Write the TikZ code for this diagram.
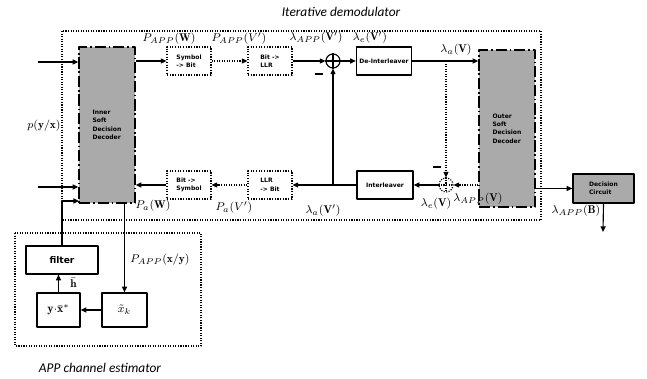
\documentclass[tikz,border=0pt]{standalone}
\usepackage{fontspec}
\setsansfont{Carlito}
\newfontfamily\boxfont{DejaVu Sans}
\usetikzlibrary{arrows.meta,positioning,calc}

\definecolor{decgray}{RGB}{170,170,170}

\begin{document}
\begin{tikzpicture}[
  x=0.025cm,
  y=-0.025cm,
  line join=round,
  >={Triangle[length=4pt,width=3.6pt]},
  lbl/.style={font=\fontsize{8}{9}\selectfont, inner sep=0pt},
  title/.style={font=\sffamily\itshape\fontsize{9.5}{11}\selectfont, inner sep=0pt},
  blk/.style={draw, line width=0.9pt, inner sep=1pt, align=left,
    font=\boxfont\bfseries\fontsize{4.3}{6}\selectfont},
  dotblk/.style={blk, densely dotted, line width=0.8pt},
  decoder/.style={blk, fill=decgray, line width=1.1pt,
    dash pattern=on 8pt off 2pt on 1.2pt off 2pt},
  estblk/.style={blk, align=center, font=\boxfont\bfseries\fontsize{6.5}{8}\selectfont},
  sum/.style={draw, circle, line width=0.8pt, minimum size=0.35cm, inner sep=0pt},
  minus/.style={inner sep=0pt}
]

\useasboundingbox (0,0) rectangle (647,379);

% Iterative demodulator frame
\draw[densely dotted, line width=0.8pt] (62,31) rectangle (541,220);
\node[title] (demodtitle) at (341,12) {Iterative demodulator};

% Soft decision decoders
\node[decoder, minimum width=1.4cm, minimum height=3.9cm]
  (inner) at (107,125) {Inner\\Soft\\Decision\\Decoder};
\node[decoder, minimum width=1.4cm, minimum height=3.925cm]
  (outer) at (507,128.5) {Outer\\Soft\\Decision\\Decoder};

% Forward row
\node[dotblk, minimum width=1.1cm, minimum height=0.7cm]
  (symbit) at (189,61) {Symbol\\-> Bit};
\node[dotblk, minimum width=1.1cm, minimum height=0.7cm]
  (bitllr) at (270,61) {Bit ->\\LLR};
\node[sum] (sumtop) at (333,61) {};
\draw[line width=0.8pt] (sumtop.north) -- (sumtop.south)
  (sumtop.west) -- (sumtop.east);
\node[blk, minimum width=1.375cm, minimum height=0.7cm]
  (deint) at (384,61) {De-Interleaver};

% Feedback row
\node[dotblk, minimum width=1.1cm, minimum height=0.7cm]
  (bitsym) at (189,185) {Bit ->\\Symbol};
\node[dotblk, minimum width=1.1cm, minimum height=0.7cm]
  (llrbit) at (270,185) {LLR\\-> Bit};
\node[blk, minimum width=1.4cm, minimum height=0.7cm]
  (interl) at (385,185) {Interleaver};
\node[sum, densely dotted] (sumbot) at (446,185) {};
\draw[densely dotted, line width=0.8pt] (sumbot.north) -- (sumbot.south)
  (sumbot.west) -- (sumbot.east);

% Decision circuit
\node[blk, fill=decgray, minimum width=1.525cm, minimum height=0.725cm]
  (decision) at (603.5,188.5) {Decision\\Circuit};
\coordinate (decout) at (603,232);

% APP channel estimator
\draw[densely dotted, line width=0.8pt] (15,233) rectangle (201,346);
\node[title] (esttitle) at (100,368) {APP channel estimator};
\node[estblk, minimum width=1.8cm, minimum height=0.7cm]
  (filter) at (62,260) {filter};
\node[estblk, minimum width=1.075cm, minimum height=0.85cm,
  font=\fontsize{8.5}{9}\selectfont]
  (yx) at (58.5,310) {$\mathbf{y}{\cdot}\bar{\mathbf{x}}^{*}$};
\node[estblk, minimum width=1.125cm, minimum height=0.85cm,
  font=\fontsize{8}{9}\selectfont]
  (xk) at (124.5,310) {$\tilde{x}_k$};

% Channel inputs
\coordinate (in1) at (38,62);
\coordinate (in2) at (38,187);
\coordinate (fbin) at (79,201);
\node[lbl] (pyx) at (44,126) {$p(\mathbf{y}/\mathbf{x})$};

% Connectors
\begin{scope}[line width=0.8pt]
\draw[->] (in1) -- (in1 -| inner.west);
\draw[->] (in2) -- (in2 -| inner.west);
\draw[->] (filter.north) |- (fbin);
\draw[->] (symbit.west -| inner.east) -- (symbit.west);
\draw[->, densely dotted] (symbit.east) -- (bitllr.west);
\draw[->] (bitllr.east) -- (sumtop.west);
\draw[->] (sumtop.east) -- (deint.west);
\draw[->] (deint.east) -- (deint.east -| outer.west);
\draw[->, densely dotted] (sumbot |- deint.east) -- (sumbot.north);
\draw[->, densely dotted] (sumbot.east -| outer.west) -- (sumbot.east);
\draw[->] (sumbot.west) -- (interl.east);
\draw[->] (interl.west) -- (llrbit.east);
\draw[->] (sumtop |- interl.west) -- (sumtop.south);
\draw[->, densely dotted] (llrbit.west) -- (bitsym.east);
\draw[->] (bitsym.west) -- (bitsym.west -| inner.east);
\draw[->] (decision.west -| outer.east) -- (decision.west);
\draw[->] (decision.south) -- (decout);
\draw[->] (xk.north |- inner.south) -- (xk.north);
\draw[->] (xk.west) -- (yx.east);
\draw[->] (yx.north) -- (yx.north |- filter.south);
\end{scope}

% Signal labels
\node[lbl] (lpw) at (169,39) {$P_{APP}(\mathbf{W})$};
\node[lbl] (lpv) at (239,39) {$P_{APP}(V')$};
\node[lbl] (llappv) at (316,38) {$\lambda_{APP}(\mathbf{V}')$};
\node[lbl] (lev) at (370,38) {$\lambda_{e}(\mathbf{V}')$};
\node[lbl] (lav) at (456,50) {$\lambda_{a}(\mathbf{V})$};
\node[lbl] (lpaw) at (153,206) {$P_{a}(\mathbf{W})$};
\node[lbl] (lpav) at (234,208) {$P_{a}(V')$};
\node[lbl] (lavp) at (323,211) {$\lambda_{a}(\mathbf{V}')$};
\node[lbl] (levb) at (436,204) {$\lambda_{e}(\mathbf{V})$};
\node[lbl] (lappv) at (478,199) {$\lambda_{APP}(\mathbf{V})$};
\node[lbl] (lappb) at (576,211) {$\lambda_{APP}(\mathbf{B})$};
\node[lbl, anchor=west] (lpxy) at (130,260) {$P_{APP}(\mathbf{x}/\mathbf{y})$};
\node[lbl, anchor=west] (lh) at (70,283) {$\bar{\mathbf{h}}$};

% Minus signs
\node[minus] (mtop) at (319,74) {\rule{6pt}{1.2pt}};
\node[minus] (mbot) at (437,167) {\rule{6pt}{1.2pt}};

\end{tikzpicture}
\end{document}
